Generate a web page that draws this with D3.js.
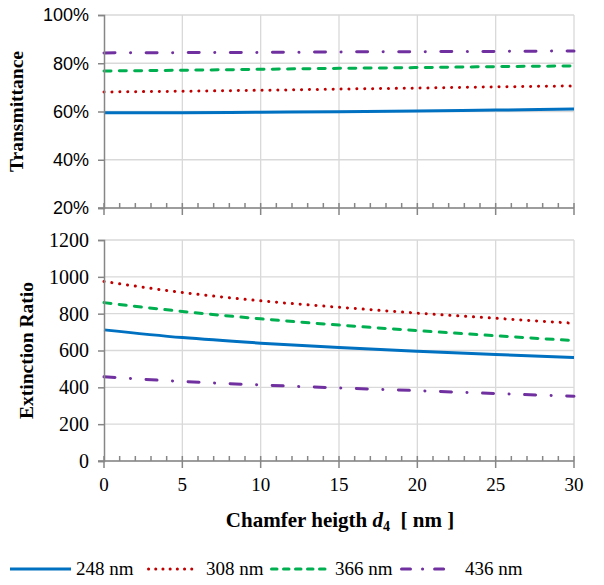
<!DOCTYPE html>
<html>
<head>
<meta charset="utf-8">
<script src="https://cdn.jsdelivr.net/npm/d3@7"></script>
<style>
  body { margin: 0; background: #fff; }
  svg { display: block; }
  .serif { font-family: 'Liberation Serif', 'DejaVu Serif', serif; }
  .sans { font-family: 'Liberation Sans', Arial, sans-serif; }
</style>
</head>
<body>
<svg id="chart" width="604" height="585"></svg>
<script>
// chamfer height d4 (nm)
const heights = [0, 5, 10, 15, 20, 25, 30];
const wavelengths = ['248 nm', '308 nm', '366 nm', '436 nm'];

// transmittance (fraction)
const trans248 = [0.595, 0.595, 0.597, 0.599, 0.602, 0.606, 0.610];
const trans308 = [0.681, 0.684, 0.688, 0.693, 0.697, 0.702, 0.706];
const trans366 = [0.768, 0.771, 0.775, 0.779, 0.782, 0.786, 0.789];
const trans436 = [0.843, 0.844, 0.845, 0.847, 0.848, 0.849, 0.851];

// extinction ratio
const er248 = [712, 670, 640, 616, 596, 578, 562];
const er308 = [975, 915, 870, 835, 803, 775, 748];
const er366 = [860, 812, 772, 738, 708, 680, 654];
const er436 = [457, 432, 413, 397, 382, 366, 352];

const transTicks = [0.2, 0.4, 0.6, 0.8, 1.0];
const erTicks = [0, 200, 400, 600, 800, 1000, 1200];
const xTicks = [0, 5, 10, 15, 20, 25, 30];

const styles = [
  { color: '#0070C0', dash: null, legendDash: null, cap: 'butt' },
  { color: '#C00000', dash: '0.1 7.8', legendDash: '0.1 7.1', cap: 'round' },
  { color: '#00B050', dash: '7 8.3', legendDash: '5.5 6.5', cap: 'round' },
  { color: '#7030A0', dash: '11 15.5 0.1 15.5', legendDash: '9 12 0.1 12', cap: 'round' }
];

const svg = d3.select('#chart');
const gridColor = '#d9d9d9';
const axisColor = '#868686';

const x = d3.scaleLinear().domain([0, 30]).range([104, 574]);
const yT = d3.scaleLinear().domain([0.2, 1.0]).range([208, 15]);
const yE = d3.scaleLinear().domain([0, 1200]).range([461, 240]);

function drawPanel(y, ticks, fmt, fontClass, fontSize, series, title, titleX) {
  const g = svg.append('g');
  const [y0, y1] = y.range();

  // gridlines
  g.selectAll('.hg').data(ticks).enter().append('line')
    .attr('x1', x(0)).attr('x2', x(30))
    .attr('y1', d => y(d)).attr('y2', d => y(d))
    .attr('stroke', gridColor).attr('stroke-width', 1.3);
  g.selectAll('.vg').data(xTicks.slice(1)).enter().append('line')
    .attr('x1', d => x(d)).attr('x2', d => x(d))
    .attr('y1', y0).attr('y2', y1)
    .attr('stroke', gridColor).attr('stroke-width', 1.3);

  // series
  const line = d3.line()
    .x((d, i) => x(heights[i]))
    .y(d => y(d))
    .curve(d3.curveMonotoneX);
  series.forEach((vals, i) => {
    const s = styles[i];
    g.append('path')
      .attr('d', line(vals))
      .attr('fill', 'none')
      .attr('stroke', s.color)
      .attr('stroke-width', 3)
      .attr('stroke-linecap', s.cap)
      .attr('stroke-dasharray', s.dash);
  });

  // y axis
  const yAxis = g.append('g')
    .attr('transform', `translate(${x(0)},0)`)
    .call(d3.axisLeft(y).tickValues(ticks).tickFormat(fmt).tickSize(6).tickPadding(9))
    .attr('font-family', null).attr('font-size', null);
  yAxis.select('.domain').attr('stroke', axisColor).attr('stroke-width', 1.5);
  yAxis.selectAll('.tick line').attr('stroke', axisColor).attr('stroke-width', 1.5);
  yAxis.selectAll('.tick text')
    .attr('class', fontClass).style('font-size', fontSize + 'px').attr('fill', '#000');

  // x axis line with crossing major ticks and upward minor ticks
  const ax = g.append('g');
  ax.append('line')
    .attr('x1', x(0) - 6).attr('x2', x(30))
    .attr('y1', y0).attr('y2', y0)
    .attr('stroke', axisColor).attr('stroke-width', 1.5);
  ax.selectAll('.maj').data(xTicks).enter().append('line')
    .attr('x1', d => x(d)).attr('x2', d => x(d))
    .attr('y1', y0 - 5).attr('y2', y0 + 7)
    .attr('stroke', axisColor).attr('stroke-width', 1.5);
  const minor = d3.range(0, 31).filter(v => v % 5 !== 0);
  ax.selectAll('.min').data(minor).enter().append('line')
    .attr('x1', d => x(d)).attr('x2', d => x(d))
    .attr('y1', y0 - 5).attr('y2', y0)
    .attr('stroke', axisColor).attr('stroke-width', 1.5);

  // axis title
  svg.append('text')
    .attr('class', 'serif')
    .attr('transform', `translate(${titleX},${(y0 + y1) / 2}) rotate(-90)`)
    .attr('text-anchor', 'middle')
    .attr('dominant-baseline', 'central')
    .style('font-weight', 'bold').style('font-size', '19.5px')
    .text(title);
}

drawPanel(yT, transTicks, d3.format('.0%'), 'sans', 18,
  [trans248, trans308, trans366, trans436], 'Transmittance', 16);
drawPanel(yE, erTicks, d => d, 'serif', 20,
  [er248, er308, er366, er436], 'Extinction Ratio', 26);

// x tick labels (bottom panel)
svg.append('g').selectAll('text').data(xTicks).enter().append('text')
  .attr('class', 'serif')
  .attr('x', d => x(d)).attr('y', 491)
  .attr('text-anchor', 'middle')
  .style('font-size', '19px')
  .text(d => d);

// x axis title
const xt = svg.append('text')
  .attr('class', 'serif')
  .attr('x', 340).attr('y', 527)
  .attr('text-anchor', 'middle')
  .style('font-weight', 'bold').style('font-size', '21px');
xt.append('tspan').text('Chamfer heigth ');
xt.append('tspan').style('font-style', 'italic').text('d');
xt.append('tspan').style('font-size', '14px').attr('dy', 4).text('4');
xt.append('tspan').attr('dy', -4).style('white-space', 'pre').text('  [ nm ]');

// legend
const legendX = [10, 147, 270, 400];
const legendW = [61, 50, 60, 48];
const legendTextX = [76, 206, 335, 465];
const lg = svg.append('g');
wavelengths.forEach((w, i) => {
  const s = styles[i];
  lg.append('line')
    .attr('x1', legendX[i] + (s.cap === 'round' ? 1.5 : 0))
    .attr('x2', legendX[i] + legendW[i])
    .attr('y1', 569).attr('y2', 569)
    .attr('stroke', s.color).attr('stroke-width', 3)
    .attr('stroke-linecap', s.cap)
    .attr('stroke-dasharray', s.legendDash);
  lg.append('text')
    .attr('class', 'serif')
    .attr('x', legendTextX[i]).attr('y', 575)
    .style('font-size', '19px')
    .text(w);
});
</script>
</body>
</html>
